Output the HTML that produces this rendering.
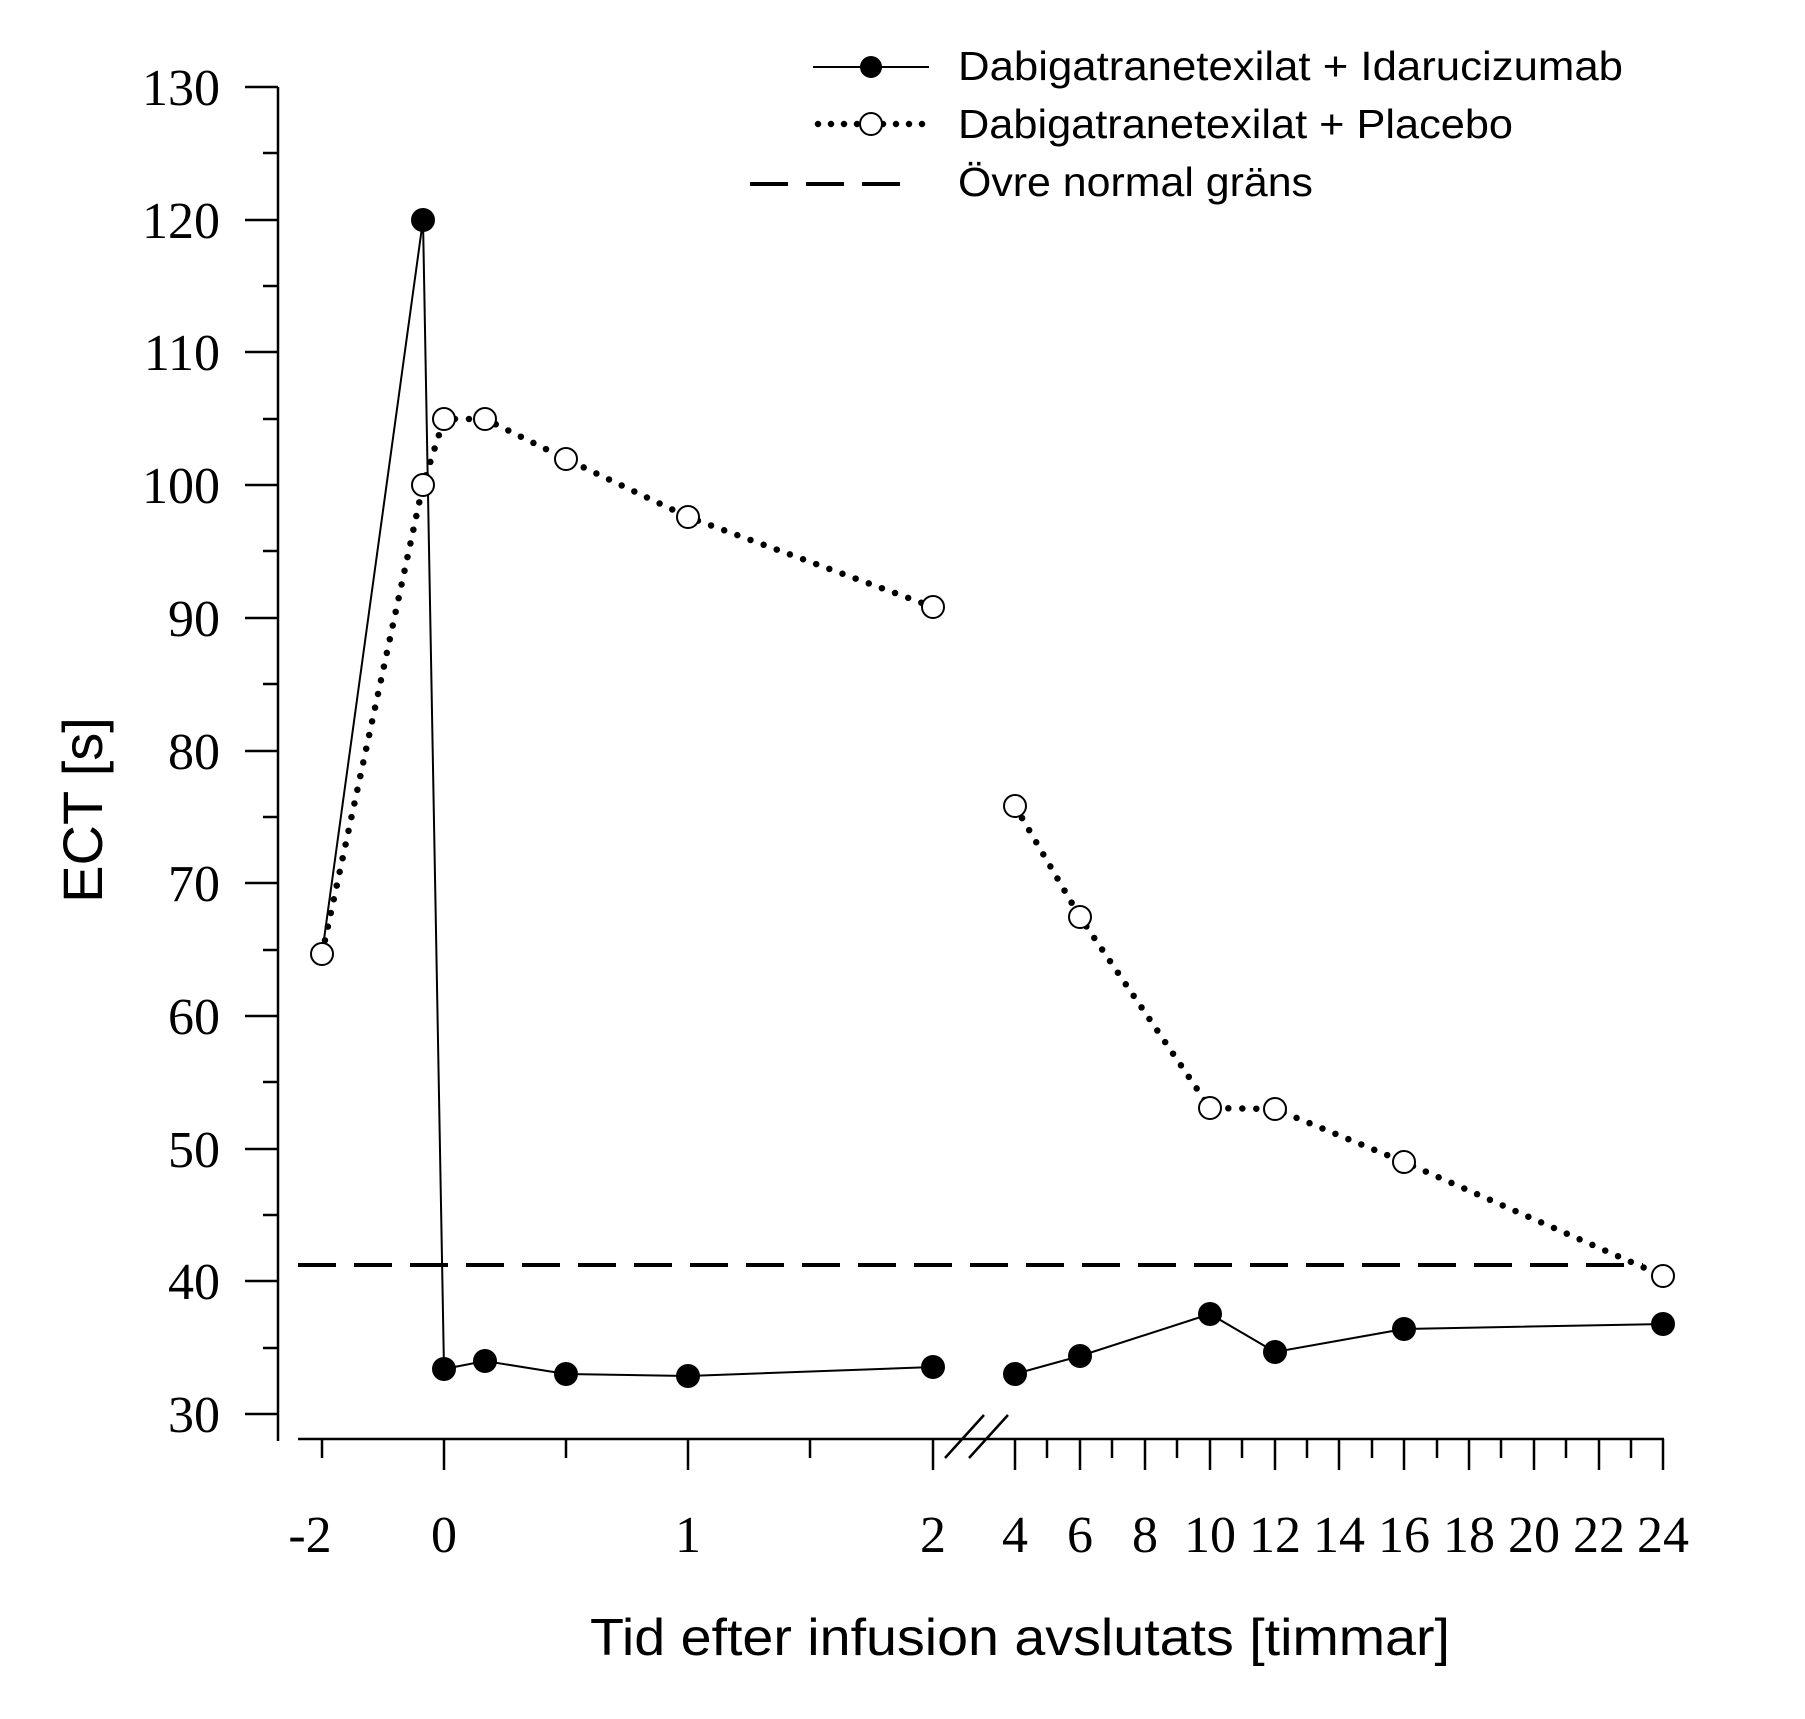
<!DOCTYPE html>
<html><head><meta charset="utf-8"><style>html,body{margin:0;padding:0;background:#fff}</style></head>
<body>
<svg width="1805" height="1714" viewBox="0 0 1805 1714" xmlns="http://www.w3.org/2000/svg">
<g stroke="#000" stroke-width="2.5" fill="none">
<line x1="278" y1="87" x2="278" y2="1441"/>
<line x1="298" y1="1439" x2="1664" y2="1439"/>
<g>
<line x1="245" y1="87" x2="278" y2="87"/><line x1="263" y1="153" x2="278" y2="153"/>
<line x1="245" y1="220" x2="278" y2="220"/><line x1="263" y1="286" x2="278" y2="286"/>
<line x1="245" y1="352" x2="278" y2="352"/><line x1="263" y1="419" x2="278" y2="419"/>
<line x1="245" y1="485" x2="278" y2="485"/><line x1="263" y1="551" x2="278" y2="551"/>
<line x1="245" y1="618" x2="278" y2="618"/><line x1="263" y1="684" x2="278" y2="684"/>
<line x1="245" y1="751" x2="278" y2="751"/><line x1="263" y1="817" x2="278" y2="817"/>
<line x1="245" y1="883" x2="278" y2="883"/><line x1="263" y1="950" x2="278" y2="950"/>
<line x1="245" y1="1016" x2="278" y2="1016"/><line x1="263" y1="1082" x2="278" y2="1082"/>
<line x1="245" y1="1149" x2="278" y2="1149"/><line x1="263" y1="1215" x2="278" y2="1215"/>
<line x1="245" y1="1281" x2="278" y2="1281"/><line x1="263" y1="1348" x2="278" y2="1348"/>
<line x1="245" y1="1414" x2="278" y2="1414"/>
</g>
<g>
<line x1="322" y1="1439" x2="322" y2="1458"/>
<line x1="444" y1="1439" x2="444" y2="1470"/>
<line x1="566" y1="1439" x2="566" y2="1458"/>
<line x1="688" y1="1439" x2="688" y2="1470"/>
<line x1="810" y1="1439" x2="810" y2="1458"/>
<line x1="933" y1="1439" x2="933" y2="1470"/>
<line x1="1015" y1="1439" x2="1015" y2="1470"/>
<line x1="1047" y1="1439" x2="1047" y2="1458"/>
<line x1="1080" y1="1439" x2="1080" y2="1470"/>
<line x1="1112" y1="1439" x2="1112" y2="1458"/>
<line x1="1145" y1="1439" x2="1145" y2="1470"/>
<line x1="1177" y1="1439" x2="1177" y2="1458"/>
<line x1="1210" y1="1439" x2="1210" y2="1470"/>
<line x1="1242" y1="1439" x2="1242" y2="1458"/>
<line x1="1275" y1="1439" x2="1275" y2="1470"/>
<line x1="1307" y1="1439" x2="1307" y2="1458"/>
<line x1="1339" y1="1439" x2="1339" y2="1470"/>
<line x1="1372" y1="1439" x2="1372" y2="1458"/>
<line x1="1404" y1="1439" x2="1404" y2="1470"/>
<line x1="1437" y1="1439" x2="1437" y2="1458"/>
<line x1="1469" y1="1439" x2="1469" y2="1470"/>
<line x1="1501" y1="1439" x2="1501" y2="1458"/>
<line x1="1534" y1="1439" x2="1534" y2="1470"/>
<line x1="1566" y1="1439" x2="1566" y2="1458"/>
<line x1="1599" y1="1439" x2="1599" y2="1470"/>
<line x1="1631" y1="1439" x2="1631" y2="1458"/>
<line x1="1663" y1="1439" x2="1663" y2="1470"/>
</g>
<line x1="945" y1="1458" x2="984" y2="1415"/>
<line x1="969" y1="1458" x2="1008" y2="1415"/>
</g>
<line x1="298" y1="1265" x2="1643" y2="1265" stroke="#000" stroke-width="4" stroke-dasharray="38,18"/>
<polyline fill="none" stroke="#000" stroke-width="2" points="322,954 423,220 444,1369 485,1361 566,1374 688,1376 933,1367"/>
<polyline fill="none" stroke="#000" stroke-width="2" points="1015,1374 1080,1356 1210,1314 1275,1352 1404,1329 1663,1324"/>
<g fill="#000">
<circle cx="423" cy="220" r="12"/><circle cx="444" cy="1369" r="12"/><circle cx="485" cy="1361" r="12"/>
<circle cx="566" cy="1374" r="12"/><circle cx="688" cy="1376" r="12"/><circle cx="933" cy="1367" r="12"/>
<circle cx="1015" cy="1374" r="12"/><circle cx="1080" cy="1356" r="12"/><circle cx="1210" cy="1314" r="12"/>
<circle cx="1275" cy="1352" r="12"/><circle cx="1404" cy="1329" r="12"/><circle cx="1663" cy="1324" r="12"/>
</g>
<polyline fill="none" stroke="#000" stroke-width="6.5" stroke-linecap="round" stroke-dasharray="0,14" points="322,954 423,485 444,419 485,419 566,459 688,517 933,607"/>
<polyline fill="none" stroke="#000" stroke-width="6.5" stroke-linecap="round" stroke-dasharray="0,14" points="1015,806 1080,917 1210,1108 1275,1109 1404,1162 1663,1276"/>
<g fill="#fff" stroke="#000" stroke-width="2">
<circle cx="322" cy="954" r="11"/><circle cx="423" cy="485" r="11"/><circle cx="444" cy="419" r="11"/>
<circle cx="485" cy="419" r="11"/><circle cx="566" cy="459" r="11"/><circle cx="688" cy="517" r="11"/>
<circle cx="933" cy="607" r="11"/><circle cx="1015" cy="806" r="11"/><circle cx="1080" cy="917" r="11"/>
<circle cx="1210" cy="1108" r="11"/><circle cx="1275" cy="1109" r="11"/><circle cx="1404" cy="1162" r="11"/>
<circle cx="1663" cy="1276" r="11"/>
</g>
<g font-family="Liberation Serif, serif" font-size="52" text-anchor="end">
<text x="220" y="105">130</text><text x="220" y="238">120</text><text x="220" y="370">110</text>
<text x="220" y="503">100</text><text x="220" y="636">90</text><text x="220" y="769">80</text>
<text x="220" y="901">70</text><text x="220" y="1034">60</text><text x="220" y="1167">50</text>
<text x="220" y="1299">40</text><text x="220" y="1432">30</text>
</g>
<g font-family="Liberation Serif, serif" font-size="52" text-anchor="middle">
<text x="310" y="1552">-2</text><text x="444" y="1552">0</text><text x="688" y="1552">1</text>
<text x="933" y="1552">2</text><text x="1015" y="1552">4</text><text x="1080" y="1552">6</text>
<text x="1145" y="1552">8</text><text x="1210" y="1552">10</text><text x="1275" y="1552">12</text>
<text x="1339" y="1552">14</text><text x="1404" y="1552">16</text><text x="1469" y="1552">18</text>
<text x="1534" y="1552">20</text><text x="1599" y="1552">22</text><text x="1663" y="1552">24</text>
</g>
<text x="1020" y="1655" font-family="Liberation Sans, sans-serif" font-size="52" text-anchor="middle" textLength="860" lengthAdjust="spacingAndGlyphs">Tid efter infusion avslutats [timmar]</text>
<text transform="translate(102,810) rotate(-90)" font-family="Liberation Sans, sans-serif" font-size="56" text-anchor="middle">ECT [s]</text>
<line x1="813" y1="67" x2="929" y2="67" stroke="#000" stroke-width="2"/>
<circle cx="871" cy="67" r="11" fill="#000"/>
<line x1="818" y1="124" x2="925" y2="124" stroke="#000" stroke-width="6.5" stroke-linecap="round" stroke-dasharray="0,13"/>
<circle cx="871" cy="124" r="11" fill="#fff" stroke="#000" stroke-width="2"/>
<line x1="750" y1="184" x2="917" y2="184" stroke="#000" stroke-width="4" stroke-dasharray="38,18"/>
<g font-family="Liberation Sans, sans-serif" font-size="41">
<text x="958" y="80" textLength="665" lengthAdjust="spacingAndGlyphs">Dabigatranetexilat + Idarucizumab</text>
<text x="958" y="138" textLength="555" lengthAdjust="spacingAndGlyphs">Dabigatranetexilat + Placebo</text>
<text x="958" y="196" textLength="355" lengthAdjust="spacingAndGlyphs">Övre normal gräns</text>
</g>
</svg>
</body></html>
